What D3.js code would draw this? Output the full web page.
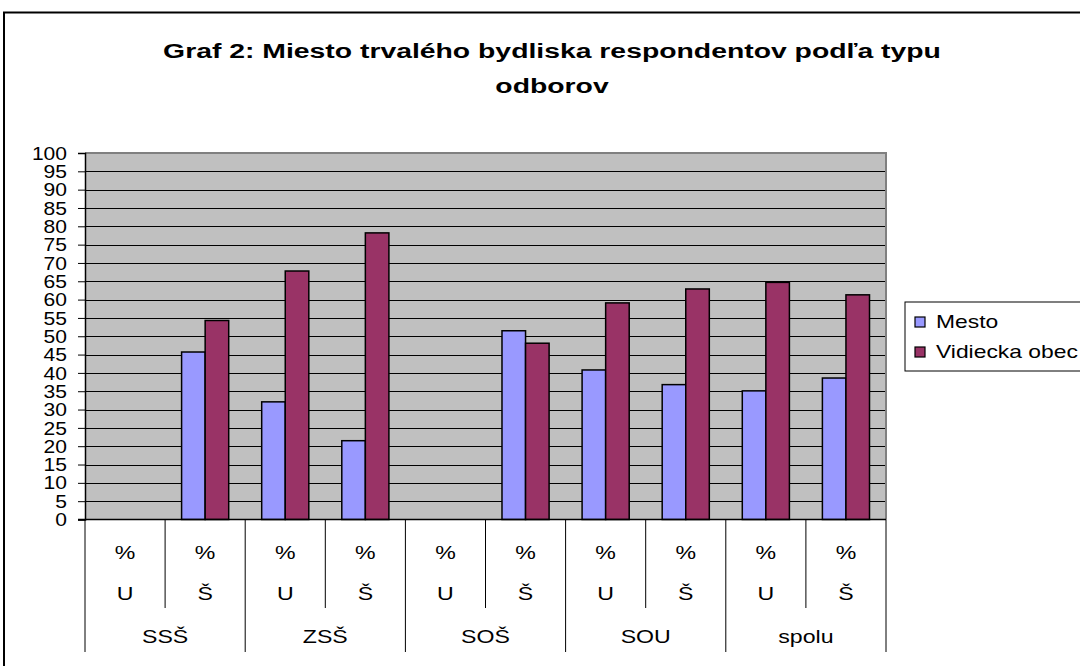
<!DOCTYPE html>
<html><head><meta charset="utf-8">
<script src="https://cdn.jsdelivr.net/npm/d3@7"></script>
<style>body{margin:0;background:#fff}svg{display:block}text{font-family:Arial,"Liberation Sans",sans-serif;fill:#000}</style>
</head><body>
<script>
const titleLines = ["Graf 2: Miesto trvalého bydliska respondentov podľa typu", "odborov"];
const groups = ["SSŠ", "ZSŠ", "SOŠ", "SOU", "spolu"];
const subTop = ["%", "%", "%", "%", "%", "%", "%", "%", "%", "%"];
const subBottom = ["U", "Š", "U", "Š", "U", "Š", "U", "Š", "U", "Š"];
const seriesNames = ["Mesto", "Vidiecka obec"];
const mesto = [null, 45.7, 32.1, 21.5, null, 51.5, 40.8, 36.8, 35.1, 38.6];
const vidiecka = [null, 54.3, 67.8, 78.2, null, 48.1, 59.1, 62.9, 64.7, 61.3];
const yTicks = d3.range(0, 101, 5);

const W = 1080, H = 666;
const svg = d3.select("body").append("svg").attr("width", W).attr("height", H);
svg.append("rect").attr("x", 4).attr("y", 12.5).attr("width", 1100).attr("height", 700)
  .attr("fill", "#fff").attr("stroke", "#000").attr("stroke-width", 2);

// horizontally stretched text helper
function stext(g, x, y, txt, size, sx, anchor, weight) {
  return g.append("text")
    .attr("transform", `translate(${x},${y}) scale(${sx},1)`)
    .attr("text-anchor", anchor || "start")
    .attr("font-size", size)
    .attr("font-weight", weight || "normal")
    .text(txt);
}

const L = 85, R = 886, T = 153, B = 519.5;
const colors = ["#9999FF", "#993366"];
const idx = d3.range(mesto.length);
const x = d3.scaleBand().domain(idx).range([L, R]).padding(0);
const xs = d3.scaleBand().domain([0, 1]).range([0, x.bandwidth()]).paddingInner(0).paddingOuter(0.7);
const y = d3.scaleLinear().domain([0, 100]).range([B, T]);

svg.append("rect").attr("x", L).attr("y", T).attr("width", R - L).attr("height", B - T).attr("fill", "#C0C0C0");
// gridlines
svg.append("g").selectAll("line").data(yTicks.filter(d => d > 0)).join("line")
  .attr("x1", L).attr("x2", R).attr("y1", d => Math.round(y(d)) + 0.5).attr("y2", d => Math.round(y(d)) + 0.5)
  .attr("stroke", "#000").attr("stroke-width", 1);
// plot border top/right
svg.append("path").attr("d", `M${L},${T}H${R}V${B}`).attr("fill", "none").attr("stroke", "#808080").attr("stroke-width", 2);

// bars
const series = [mesto, vidiecka];
series.forEach((vals, si) => {
  svg.append("g").selectAll("rect").data(idx.filter(i => vals[i] != null)).join("rect")
    .attr("x", i => x(i) + xs(si)).attr("width", xs.bandwidth())
    .attr("y", i => y(vals[i])).attr("height", i => B - y(vals[i]))
    .attr("fill", colors[si]).attr("stroke", "#000").attr("stroke-width", 1.5);
});

// y axis
const yAxis = svg.append("g").attr("transform", `translate(${L},0)`)
  .call(d3.axisLeft(y).tickValues(yTicks).tickSize(7).tickPadding(11));
yAxis.select(".domain").attr("stroke", "#000").attr("stroke-width", 1.5);
yAxis.selectAll(".tick line").attr("stroke", "#000");
yAxis.selectAll(".tick text").each(function () {
  const t = d3.select(this);
  const tx = +t.attr("x");
  t.attr("x", null).attr("dy", "0.34em")
    .attr("font-size", 18).attr("fill", "#000")
    .style("font-family", 'Arial,"Liberation Sans",sans-serif')
    .attr("transform", `translate(${tx},0) scale(1.17,1)`);
});

// x axis baseline
svg.append("line").attr("x1", L - 7).attr("x2", R).attr("y1", B).attr("y2", B).attr("stroke", "#000").attr("stroke-width", 1.5);
// category separators
svg.append("g").selectAll("line").data(d3.range(mesto.length + 1)).join("line")
  .attr("x1", i => (i < mesto.length ? x(i) : R)).attr("x2", i => (i < mesto.length ? x(i) : R))
  .attr("y1", B).attr("y2", i => (i % 2 === 0 ? 652 : 608))
  .attr("stroke", "#000").attr("stroke-width", 1);
// sub labels
const gl = svg.append("g");
idx.forEach(i => {
  stext(gl, x(i) + x.bandwidth() / 2, 559, subTop[i], 18.5, 1.25, "middle");
  stext(gl, x(i) + x.bandwidth() / 2, 600, subBottom[i], 18.5, 1.25, "middle");
});
groups.forEach((d, g) => stext(gl, x(g * 2) + x.bandwidth(), 643, d, 18.5, 1.25, "middle"));

// title
const gt = svg.append("g");
titleLines.forEach((d, i) => stext(gt, 552, 58 + i * 35, d, 21, 1.35, "middle", "bold"));

// legend
svg.append("rect").attr("x", 905).attr("y", 302).attr("width", 200).attr("height", 69)
  .attr("fill", "#fff").attr("stroke", "#000").attr("stroke-width", 1);
seriesNames.forEach((n, i) => {
  svg.append("rect").attr("x", 915).attr("y", 317 + i * 30).attr("width", 10).attr("height", 10)
    .attr("fill", colors[i]).attr("stroke", "#000").attr("stroke-width", 1.2);
  stext(svg, 936, 328 + i * 30, n, 18, 1.27, "start");
});
</script>
</body></html>
